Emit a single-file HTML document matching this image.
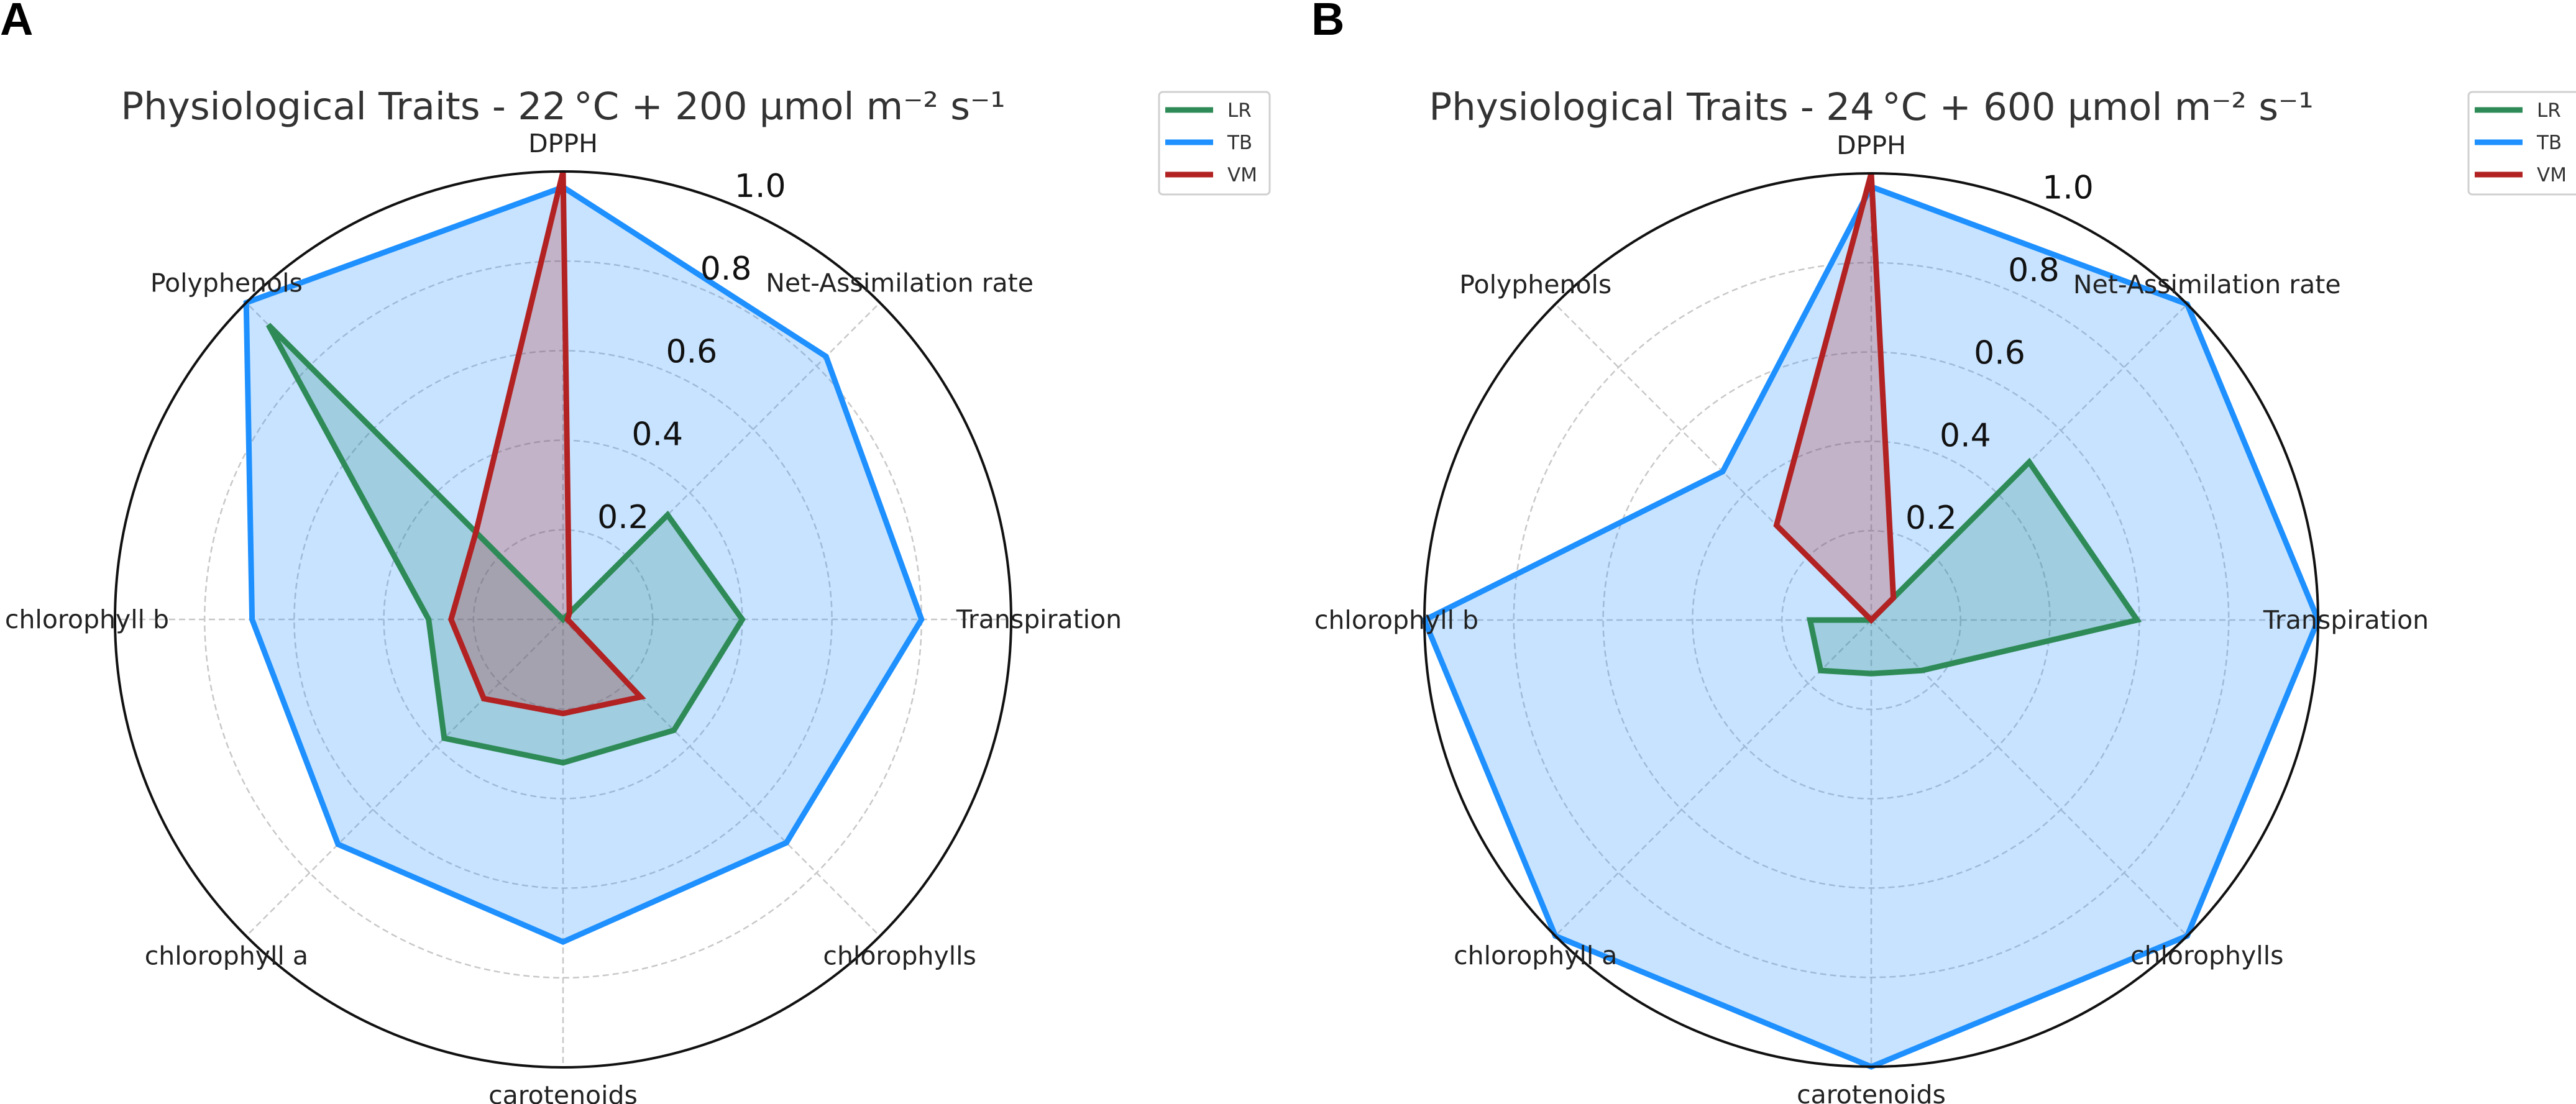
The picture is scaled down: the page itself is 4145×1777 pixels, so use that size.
<!DOCTYPE html>
<html><head><meta charset="utf-8">
<style>
html,body{margin:0;padding:0;background:#fff;}
svg{display:block;font-family:"DejaVu Sans","Liberation Sans",sans-serif;}
</style></head>
<body>
<svg id="fig" width="4145" height="1777" viewBox="0 0 4145 1777" xmlns="http://www.w3.org/2000/svg">
<rect width="4145" height="1777" fill="#fff"/>
<text x="0" y="56" font-size="74" font-weight="bold" font-family="Liberation Sans, sans-serif">A</text>
<text x="2110" y="56" font-size="74" font-weight="bold" font-family="Liberation Sans, sans-serif">B</text>
</svg>
<script>
const categories = ["DPPH","Net-Assimilation rate","Transpiration","chlorophylls","carotenoids","chlorophyll a","chlorophyll b","Polyphenols"];
const tickValues = [0.2,0.4,0.6,0.8,1.0];
const tickLabels = ["0.2","0.4","0.6","0.8","1.0"];
const seriesNames = ["LR","TB","VM"];
const titleA = "Physiological Traits - 22\u2009°C + 200 µmol m\u207B\u00B2 s\u207B\u00B9";
const titleB = "Physiological Traits - 24\u2009°C + 600 µmol m\u207B\u00B2 s\u207B\u00B9";
const lrA = [0.0,0.33,0.40,0.35,0.32,0.375,0.30,0.93];
const tbA = [0.965,0.83,0.80,0.705,0.72,0.71,0.694,1.0];
const vmA = [1.0,0.02,0.01,0.245,0.21,0.25,0.25,0.275];
const lrB = [0.0,0.50,0.595,0.16,0.12,0.16,0.137,0.0];
const tbB = [0.97,1.0,1.0,1.0,1.0,1.0,1.0,0.47];
const vmB = [1.0,0.07,0.0,0.0,0.0,0.0,0.0,0.30];

const NS="http://www.w3.org/2000/svg";
const svg=document.getElementById('fig');
const colors={LR:"#2e8b57",TB:"#1e90ff",VM:"#b22222"};
function mk(tag,attrs,parent){const e=document.createElementNS(NS,tag);for(const k in attrs)e.setAttribute(k,attrs[k]);(parent||svg).appendChild(e);return e;}

function drawPanel(id,cx,cy,R,title,data,legX){
  const g=mk('g',{});
  
  
  const n=categories.length;
  const ang=i=>-Math.PI/2+i*2*Math.PI/n;
  const pt=(i,v)=>[cx+Math.cos(ang(i))*v*R, cy+Math.sin(ang(i))*v*R];
  tickValues.forEach((t,k)=>{
    if(t<1){const c=mk('circle',{cx:cx,cy:cy,r:t*R,fill:'none',stroke:'#c8c8c8','stroke-width':2.5,'stroke-dasharray':'10,6'},g);
    
    }
  });
  categories.forEach((c,i)=>{
    const p=pt(i,1);
    const l=mk('line',{x1:cx,y1:cy,x2:p[0],y2:p[1],stroke:'#c8c8c8','stroke-width':2.5,'stroke-dasharray':'10,6'},g);
    
    
  });
  const ptsOf=s=>data[s].map((v,i)=>pt(i,v).map(x=>x.toFixed(1)).join(',')).join(' ');
  seriesNames.forEach(s=>{
    const f=mk('polygon',{points:ptsOf(s),fill:colors[s],'fill-opacity':0.25,stroke:'none'},g);
    
    
  });
  seriesNames.forEach(s=>{
    const poly=mk('polygon',{points:ptsOf(s),fill:'none',stroke:colors[s],'stroke-width':9,'stroke-linejoin':'miter'},g);
    
    
  });
  const oc=mk('circle',{cx:cx,cy:cy,r:R,fill:'none',stroke:'#111','stroke-width':4},g);
  
  
  tickValues.forEach((t,k)=>{
    const a=-Math.PI/2+Math.PI/8;
    const x=cx+Math.cos(a)*t*R, y=cy+Math.sin(a)*t*R;
    const tx=mk('text',{x:x,y:y-14,'font-size':52,fill:'#111'},g);
    tx.textContent=tickLabels[k];
    
    
  });
  categories.forEach((c,i)=>{
    const x=cx+Math.cos(ang(i))*(R+45), y=cy+Math.sin(ang(i))*(R+45);
    const tx=mk('text',{x:x,y:y+14,'font-size':41,'text-anchor':'middle',fill:'#222'},g);
    tx.textContent=c;
    
    
  });
  const tt=mk('text',{x:cx,y:cy-805,'font-size':61,'text-anchor':'middle',fill:'#333'},g);
  tt.textContent=title;
  
  
  const lg=mk('g',{},g);
  
  
  mk('rect',{x:legX,y:148,width:178,height:165,rx:6,fill:'#fff',stroke:'#d0d0d0','stroke-width':3},lg);
  seriesNames.forEach((s,k)=>{
    const y=177+k*52;
    const ln=mk('line',{x1:legX+10,y1:y,x2:legX+87,y2:y,stroke:colors[s],'stroke-width':9},lg);
    
    
    const tx=mk('text',{x:legX+110,y:y+11,'font-size':31,fill:'#333'},lg);
    tx.textContent=s;
    
    
  });
}
drawPanel('panel-a',906,997,721,titleA,{LR:lrA,TB:tbA,VM:vmA},1865);
drawPanel('panel-b',3011,998,719,titleB,{LR:lrB,TB:tbB,VM:vmB},3972);
</script>
</body></html>
